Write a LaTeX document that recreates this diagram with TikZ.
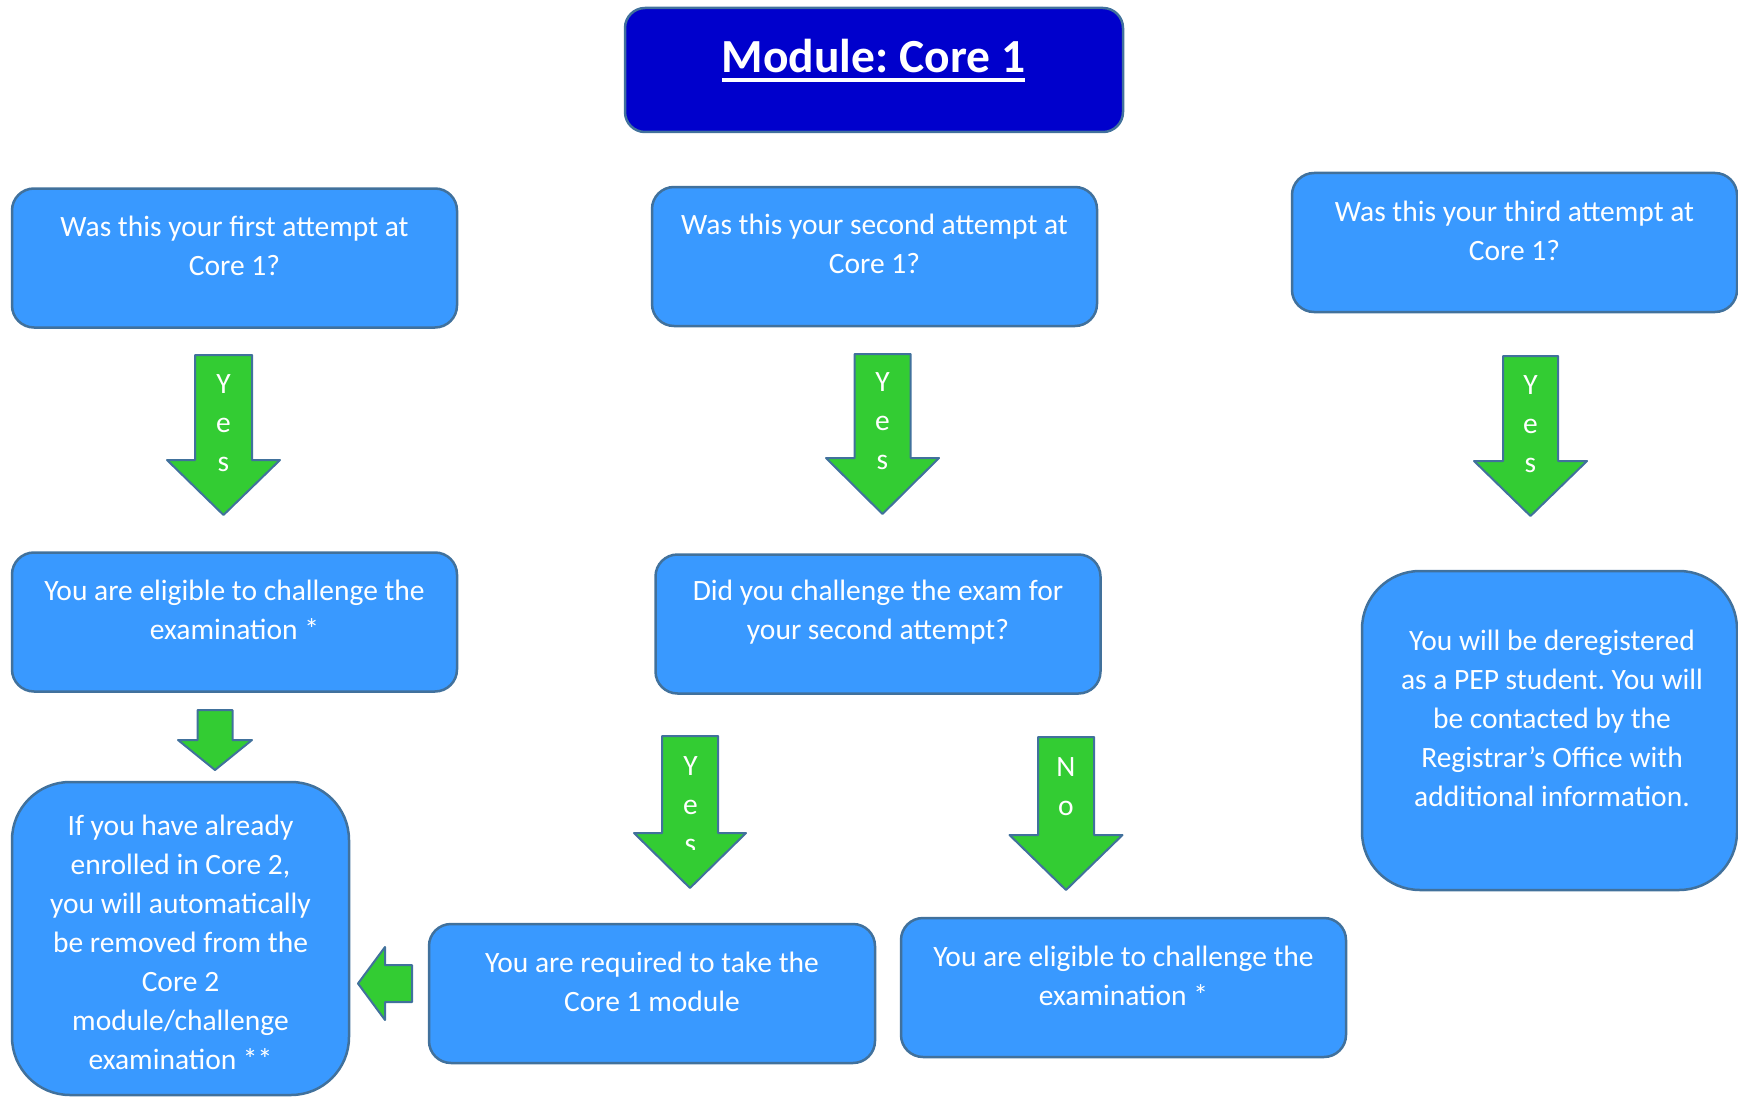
\documentclass[tikz,border=0pt]{standalone}
\usepackage{fontspec}
\setmainfont{Carlito}
\frenchspacing
\definecolor{boxblue}{HTML}{3999FF}
\definecolor{edgeblue}{HTML}{41719C}
\definecolor{titleblue}{HTML}{0000CC}
\definecolor{arrowgreen}{HTML}{33CC33}

\newcommand{\ulined}[1]{\setbox0=\hbox{#1}\rlap{\rule[-9pt]{\wd0}{4pt}}\box0}
% down block arrow: centre x, top, shoulder, tip, half shaft, half head
\newcommand{\downblock}[6]{%
  \draw[blockarrow] (#1-#5,-#2) -- (#1+#5,-#2) -- (#1+#5,-#3) -- (#1+#6,-#3)
    -- (#1,-#4) -- (#1-#6,-#3) -- (#1-#5,-#3) -- cycle;}

\begin{document}
\begin{tikzpicture}[x=1pt, y=1pt, line join=round,
    font=\fontsize{29.5}{39}\selectfont,
    box/.style={rectangle, draw=edgeblue, line width=2.5pt, fill=boxblue,
      rounded corners=22pt, inner sep=0pt, minimum width=445pt, minimum height=139pt},
    bigbox/.style={box, rounded corners=58pt},
    txt/.style={text=white, align=center, inner sep=0pt},
    blockarrow/.style={draw=edgeblue, line width=2pt, fill=arrowgreen}]
  \useasboundingbox (0,0) rectangle (1738,-1097);

  % block arrows
  \downblock{223.5}{355}{460}{515}{28.5}{56.5}
  \downblock{882.5}{354}{458}{514}{28}{56.5}
  \downblock{1530.5}{356}{461}{516}{27.5}{56.5}
  \downblock{215}{710}{740}{770}{17.5}{37}
  \downblock{690}{736}{833}{888}{28}{56}
  \downblock{1066}{737}{835}{890}{28}{56.5}
  \draw[blockarrow] (412,-965) -- (385,-965) -- (385,-947) -- (358,-983.5)
    -- (385,-1020) -- (385,-1002) -- (412,-1002) -- cycle;

  \node[txt] (yes1) at (223.5,-423.5) {Y\\e\\s};
  \node[txt] (yes2) at (882.5,-421.5) {Y\\e\\s};
  \node[txt] (yes3) at (1530.5,-424) {Y\\e\\s};
  \begin{scope}
    \clip (640,-730) rectangle (740,-849);
    \node[txt] (yes4) at (690.5,-805) {Y\\e\\s};
  \end{scope}
  \node[txt] (no) at (1066,-787) {N\\o};

  % boxes
  \node[box, fill=titleblue, minimum width=498pt, minimum height=124pt,
    rounded corners=20pt] (title) at (874,-70) {};
  \node[txt, anchor=base, font=\fontsize{47.5}{57}\selectfont\bfseries]
    (title-t) at (873.5,-73) {\ulined{Module: Core 1}};

  \node[box] (first) at (234.5,-258) {};
  \node[txt] (first-t) at ([yshift=12pt]first.center)
    {Was this your first attempt at\\Core 1?};
  \node[box] (second) at (874.5,-256.5) {};
  \node[txt] (second-t) at ([yshift=13pt]second.center)
    {Was this your second attempt at\\Core 1?};
  \node[box] (third) at (1514.5,-242.5) {};
  \node[txt] (third-t) at ([yshift=12pt]third.center)
    {Was this your third attempt at\\Core 1?};

  \node[box] (eligA) at (234.5,-622) {};
  \node[txt] (eligA-t) at ([yshift=12pt]eligA.center)
    {You are eligible to challenge the\\examination *};
  \node[box] (challenge) at (878,-624) {};
  \node[txt] (challenge-t) at ([yshift=12pt]challenge.center)
    {Did you challenge the exam for\\your second attempt?};
  \node[bigbox, minimum width=375pt, minimum height=319pt] (dereg) at (1549.5,-730.5) {};
  \node[txt] (dereg-t) at ([xshift=2.5pt,yshift=12.5pt]dereg.center)
    {You will be deregistered\\as a PEP student. You will\\be contacted by the\\Registrar’s Office with\\additional information.};

  \node[bigbox, minimum width=337pt, minimum height=313pt] (removed) at (180.5,-938.5) {};
  \node[txt] (removed-t) at ([yshift=-3.5pt]removed.center)
    {If you have already\\enrolled in Core 2,\\you will automatically\\be removed from the\\Core 2\\module/challenge\\examination **};
  \node[box, minimum width=446pt] (required) at (652,-993.5) {};
  \node[txt] (required-t) at ([yshift=12pt]required.center)
    {You are required to take the\\Core 1 module};
  \node[box] (eligB) at (1123.5,-987.5) {};
  \node[txt] (eligB-t) at ([yshift=12pt]eligB.center)
    {You are eligible to challenge the\\examination *};
\end{tikzpicture}
\end{document}
